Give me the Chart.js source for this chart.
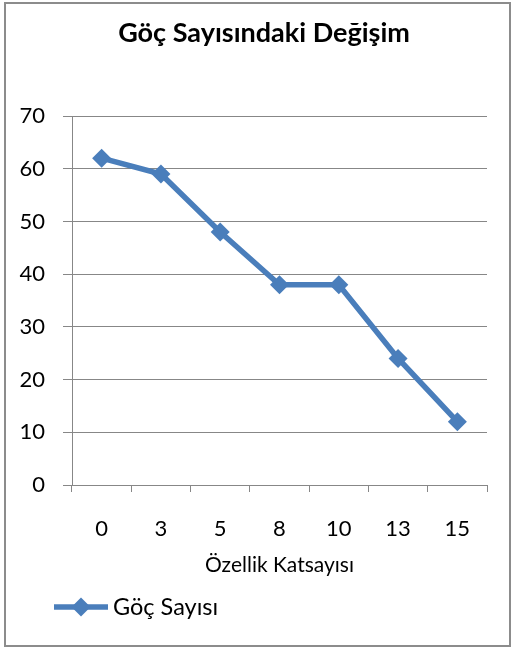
<!DOCTYPE html>
<html lang="tr">
<head>
<meta charset="utf-8">
<title>Göç Sayısındaki Değişim</title>
<script src="https://cdn.jsdelivr.net/npm/chart.js@4/dist/chart.umd.min.js"></script>
<style>
  html, body { margin: 0; padding: 0; background: #ffffff; }
  #wrap { position: relative; width: 515px; height: 648px; }
</style>
</head>
<body>
<div id="wrap"><canvas id="chart"></canvas></div>
<script>
// Özellik katsayısı kategorileri ve göç sayıları
const categories = ['0', '3', '5', '8', '10', '13', '15'];
const gocSayisi = [62, 59, 48, 38, 38, 24, 12];
const seriesLabel = 'Göç Sayısı';
const chartTitle = 'Göç Sayısındaki Değişim';
const xAxisTitle = 'Özellik Katsayısı';
const yMin = 0, yMax = 70, yStep = 10;

const BLUE = '#4a7ebb';
const GRID = '#878787';
const FONT = 'Lato, "Open Sans", sans-serif';

// Outer frame and the heading above the plot
const framePlugin = {
  id: 'frame',
  beforeDraw(chart) {
    const { ctx, width, height } = chart;
    ctx.save();
    ctx.fillStyle = '#ffffff';
    ctx.fillRect(0, 0, width, height);
    ctx.strokeStyle = '#8c8c8c';
    ctx.lineWidth = 2;
    ctx.strokeRect(5, 3, width - 10, height - 5);
    ctx.fillStyle = '#000000';
    ctx.font = 'bold 27px ' + FONT;
    ctx.textAlign = 'center';
    ctx.textBaseline = 'middle';
    ctx.fillText(chartTitle, 264, 33);
    ctx.restore();
  }
};

// Legend entry drawn as a line segment with a diamond marker
const lineLegendPlugin = {
  id: 'lineLegend',
  afterDraw(chart) {
    const { ctx } = chart;
    const ds = chart.data.datasets[0];
    const y = chart.chartArea.bottom + 122;
    const x0 = 54, x1 = 108, xm = (x0 + x1) / 2;
    ctx.save();
    ctx.strokeStyle = ds.borderColor;
    ctx.lineWidth = ds.borderWidth;
    ctx.beginPath();
    ctx.moveTo(x0, y);
    ctx.lineTo(x1, y);
    ctx.stroke();
    const r = ds.pointRadius;
    ctx.fillStyle = ds.pointBackgroundColor;
    ctx.beginPath();
    ctx.moveTo(xm, y - r);
    ctx.lineTo(xm + r, y);
    ctx.lineTo(xm, y + r);
    ctx.lineTo(xm - r, y);
    ctx.closePath();
    ctx.fill();
    ctx.fillStyle = '#000000';
    ctx.font = '23.5px ' + FONT;
    ctx.textBaseline = 'middle';
    ctx.textAlign = 'left';
    ctx.fillText(ds.label, x1 + 5, y);
    ctx.restore();
  }
};

new Chart(document.getElementById('chart'), {
  type: 'line',
  data: {
    labels: categories,
    datasets: [{
      label: seriesLabel,
      data: gocSayisi,
      borderColor: BLUE,
      backgroundColor: BLUE,
      borderWidth: 5.5,
      pointStyle: 'rectRot',
      pointRadius: 9.5,
      pointHoverRadius: 9.5,
      pointBackgroundColor: BLUE,
      pointBorderColor: BLUE,
      pointBorderWidth: 0,
      tension: 0,
      fill: false
    }]
  },
  options: {
    responsive: true,
    maintainAspectRatio: false,
    animation: false,
    events: [],
    layout: { padding: { left: 0, right: 28, top: 116, bottom: 63 } },
    plugins: {
      legend: { display: false },
      tooltip: { enabled: false },
      title: { display: false }
    },
    scales: {
      x: {
        offset: true,
        grid: {
          offset: true,
          drawOnChartArea: false,
          drawTicks: true,
          tickLength: 7,
          color: GRID,
          lineWidth: 1
        },
        border: { display: true, color: GRID, width: 1 },
        ticks: {
          color: '#000000',
          font: { family: FONT, size: 22 },
          padding: 24,
          maxRotation: 0
        },
        title: {
          display: true,
          text: xAxisTitle,
          color: '#000000',
          font: { family: FONT, size: 21, lineHeight: 1.2 },
          padding: { top: 0, bottom: 7.5 }
        },
        afterFit(scale) { scale.height = 100; }
      },
      y: {
        min: yMin,
        max: yMax,
        grid: {
          color: GRID,
          lineWidth: 1,
          drawTicks: true,
          tickLength: 9
        },
        border: { display: true, color: GRID, width: 1 },
        ticks: {
          stepSize: yStep,
          color: '#000000',
          font: { family: FONT, size: 22 },
          padding: 18
        },
        afterFit(scale) { scale.width = 72; }
      }
    }
  },
  plugins: [framePlugin, lineLegendPlugin]
});
</script>
</body>
</html>
